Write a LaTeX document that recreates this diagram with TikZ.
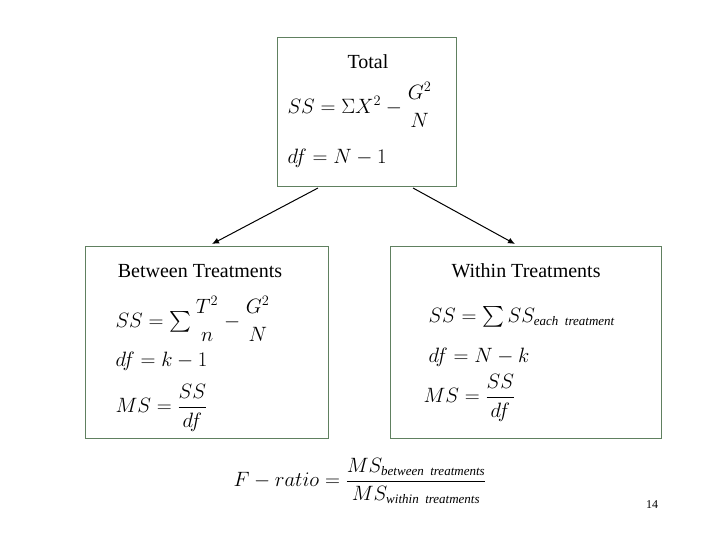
\documentclass[tikz,border=0pt]{standalone}
\usetikzlibrary{arrows.meta}
\usepackage{amsmath}
\usepackage{fontspec}
\setmainfont{Liberation Serif}
\begin{document}
\begin{tikzpicture}[x=1pt,y=-1pt,
  box/.style={draw=black!50!green!25!gray,line width=0.8pt},
  lbl/.style={font=\fontsize{20}{24}\selectfont},
  fm/.style={font=\fontsize{21}{25}\selectfont,anchor=west},
  arr/.style={-{Latex[length=7pt,width=6pt]},line width=1pt}]
\useasboundingbox (0,0) rectangle (720,540);
\node[box,minimum width=179pt,minimum height=149pt] (top) at (366.5,111.5) {};
\node[box,minimum width=243pt,minimum height=192pt] (left) at (206.5,342) {};
\node[box,minimum width=271pt,minimum height=192pt] (right) at (525.5,342) {};
\coordinate (ta) at (318,188); \coordinate (tb) at (413,188);
\coordinate (la) at (212,244); \coordinate (rb) at (515,244);
\draw[arr] (ta) -- (la);
\draw[arr] (tb) -- (rb);
\node[lbl] (tt) at (368,62) {Total};
\node[fm] (t1) at (284,105) {$SS=\Sigma X^2-\genfrac{}{}{0pt}{0}{G^2}{N}$};
\node[fm] (t2) at (284,158) {$df=N-1$};
\node[lbl] (lt) at (200,271) {Between Treatments};
\node[fm] (l1) at (112,319) {$SS=\sum\genfrac{}{}{0pt}{0}{T^2}{n}-\genfrac{}{}{0pt}{0}{G^2}{N}$};
\node[fm] (l2) at (112,361) {$df=k-1$};
\node[fm] (l3) at (112,408) {$MS=\dfrac{SS}{df}$};
\node[lbl] (rt) at (526,271) {Within Treatments};
\node[fm] (r1) at (425,317) {$SS=\sum SS_{\text{\fontsize{13}{15}\selectfont\itshape each\ \ treatment}}$};
\node[fm] (r2) at (425,357) {$df=N-k$};
\node[fm] (r3) at (420,398) {$MS=\dfrac{SS}{df}$};
\node[fm] (f) at (230,481) {$F-ratio=\dfrac{MS_{\text{\fontsize{13}{15}\selectfont\itshape between\ \ treatments}}}{MS_{\text{\fontsize{13}{15}\selectfont\itshape within\ \ treatments}}}$};
\node[font=\fontsize{12}{14}\selectfont] (pg) at (652,505) {14};
\end{tikzpicture}
\end{document}
